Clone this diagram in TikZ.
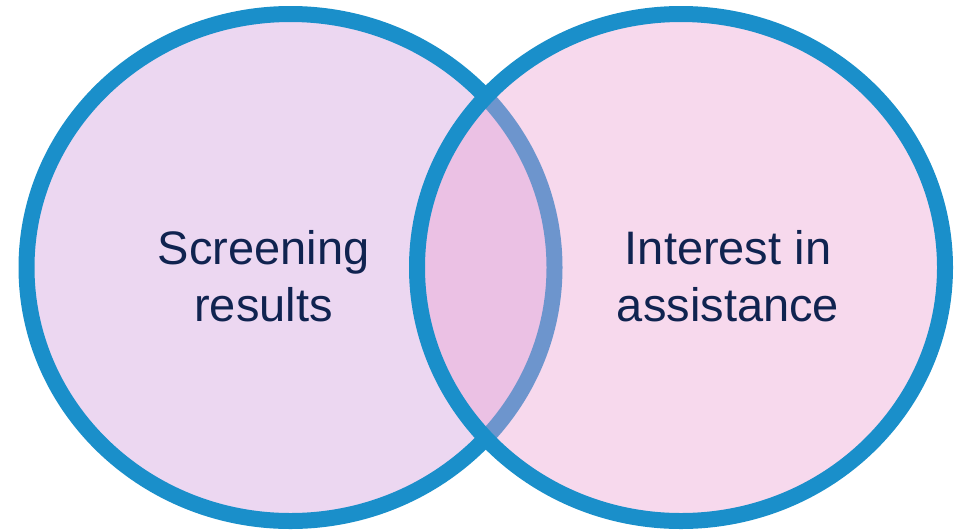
\documentclass[tikz,border=0pt]{standalone}
\usepackage{fontspec}
\setmainfont{Liberation Sans}
\usetikzlibrary{positioning}
\definecolor{ringblue}{RGB}{26,143,202}
\definecolor{lavender}{RGB}{236,215,241}
\definecolor{rosefill}{RGB}{235,160,210}
\definecolor{navytext}{RGB}{16,35,80}
\tikzset{ring/.style={draw=ringblue,line width=16pt},
  label text/.style={text=navytext,align=center,font=\fontsize{47}{57}\selectfont}}

\begin{document}
\begin{tikzpicture}[x=1pt,y=-1pt]
\useasboundingbox (0,0) rectangle (961,531);
\coordinate (L) at (290.5,267.5);
\coordinate (R) at (681,267.5);
\draw[ring,fill=lavender](L) ellipse [x radius=264pt,y radius=253.5pt];
\draw[ring,fill=rosefill,fill opacity=0.4](R) ellipse [x radius=264pt,y radius=253.5pt];
\node[label text] (screen) at (263.5,276) {Screening\\results};
\node[label text] (interest) at (728,276) {Interest in\\assistance};
\end{tikzpicture}
\end{document}
